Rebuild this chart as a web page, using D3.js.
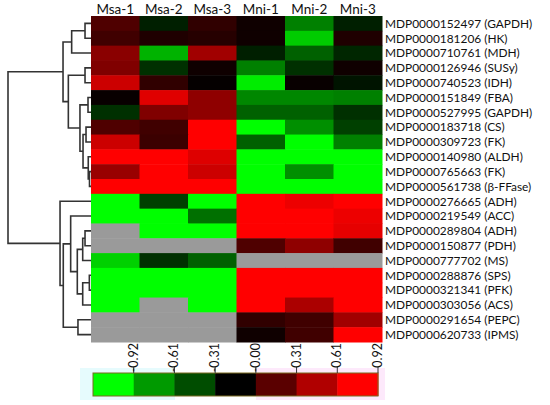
<!DOCTYPE html>
<html><head><meta charset="utf-8">
<script src="https://cdn.jsdelivr.net/npm/d3@7/dist/d3.min.js"></script>
<style>
html,body{margin:0;padding:0;background:#fff;}
text{font-family:Lato,"Open Sans",sans-serif;fill:#111;}
</style></head>
<body><svg id="chart" width="550" height="405"></svg>
<script>
const columns = ["Msa-1","Msa-2","Msa-3","Mni-1","Mni-2","Mni-3"];
const rowLabels = [
 "MDP0000152497 (GAPDH)","MDP0000181206 (HK)","MDP0000710761 (MDH)","MDP0000126946 (SUSy)",
 "MDP0000740523 (IDH)","MDP0000151849 (FBA)","MDP0000527995 (GAPDH)","MDP0000183718 (CS)",
 "MDP0000309723 (FK)","MDP0000140980 (ALDH)","MDP0000765663 (FK)","MDP0000561738 (β-FFase)",
 "MDP0000276665 (ADH)","MDP0000219549 (ACC)","MDP0000289804 (ADH)","MDP0000150877 (PDH)",
 "MDP0000777702 (MS)","MDP0000288876 (SPS)","MDP0000321341 (PFK)","MDP0000303056 (ACS)",
 "MDP0000291654 (PEPC)","MDP0000620733 (IPMS)"];
// relative expression values (null = missing)
const values = [
 [0.31,-0.12,0.19,0.06,-0.5,-0.12],
 [0.25,0.12,0.15,0.06,-0.8,0.12],
 [0.54,-0.7,0.63,-0.12,-0.38,-0.15],
 [0.5,-0.19,0.06,-0.5,-0.19,0.06],
 [0.8,0.19,0.02,-0.93,0.03,-0.08],
 [0.03,0.88,0.56,-0.53,-0.53,-0.5],
 [-0.19,0.5,0.56,-0.38,-0.38,-0.19],
 [0.31,0.25,1,-1,-0.56,-0.25],
 [0.8,0.23,1,-0.38,-1,-0.5],
 [1,1,0.87,-1,-1,-1],
 [0.6,1,0.8,-1,-0.56,-1],
 [1,1,1,-1,-1,-1],
 [-1,-0.25,-1,1,0.93,1],
 [-1,-1,-0.44,1,1,0.93],
 [null,-1,-1,1,1,0.9],
 [null,null,null,0.31,0.56,0.25],
 [-0.82,-0.19,-0.38,null,null,null],
 [-1,-1,-1,1,1,1],
 [-1,-1,-1,1,1,1],
 [-1,null,-1,1,0.67,1],
 [null,null,null,0.19,0.25,0.63],
 [null,null,null,0.06,0.25,1]
];
// dendrogram merges: [childA, childB, height]; ids >= 22 refer to earlier merges
const merges = [
 [0,1,0.072],[22,2,0.233],[3,4,0.072],[5,6,0.036],[7,8,0.06],[10,11,0.018],
 [9,27,0.033],[26,28,0.096],[25,29,0.133],[24,30,0.273],[23,31,0.337],
 [14,15,0.072],[33,16,0.1],[17,18,0.02],[35,19,0.1],[34,36,0.165],[13,37,0.245],
 [20,21,0.157],[38,39,0.334],[12,40,0.373],[32,41,1.0]
];
const legendTicks = ["-0.92","-0.61","-0.31","-0.00","0.31","0.61","0.92"];
const legendColors = ["#00ff00","#009a00","#004d00","#000000","#5a0000","#b00000","#ff0000"];

const svg = d3.select("#chart");
const x = d3.scaleBand().domain(columns).range([91,382]);
const y = d3.scaleBand().domain(d3.range(rowLabels.length)).range([16,342]);
const color = d3.scaleLinear().domain([-1,0,1]).range(["#00ff00","#000000","#ff0000"]).clamp(true);

const cells = [];
values.forEach((r,i)=>r.forEach((v,j)=>cells.push({i,j,v})));
svg.append("g").selectAll("rect").data(cells).join("rect")
 .attr("x",d=>x(columns[d.j])).attr("y",d=>y(d.i))
 .attr("width",x.bandwidth()+0.5).attr("height",y.bandwidth()+0.5)
 .attr("fill",d=>d.v===null?"#9a9a9a":color(d.v));

svg.append("g").selectAll("text").data(columns).join("text")
 .attr("x",d=>x(d)+x.bandwidth()/2).attr("y",14)
 .attr("text-anchor","middle").style("font-size","13.5px").text(d=>d);

svg.append("g").selectAll("text").data(rowLabels).join("text")
 .attr("x",385).attr("y",(d,i)=>y(i)+y.bandwidth()/2)
 .attr("dy","0.36em").style("font-size","11.9px").text(d=>d);

// dendrogram
const h = d3.scaleLinear().domain([0,1]).range([91,8]);
const nodes = rowLabels.map((d,i)=>({x:h(0), y:y(i)+y.bandwidth()/2}));
const dg = svg.append("g").attr("fill","none").attr("stroke","#333").attr("stroke-width",1.6);
merges.forEach(([a,b,ht])=>{
  const A=nodes[a],B=nodes[b],nx=h(ht);
  dg.append("path").attr("d",`M${A.x},${A.y}H${nx}V${B.y}H${B.x}`);
  nodes.push({x:nx,y:(A.y+B.y)/2});
});

// colour legend
const lx = d3.scaleLinear().domain([0,7]).range([93,378]);
svg.append("rect").attr("x",80).attr("y",368).attr("width",95).attr("height",32).attr("fill","#e6fbfd");
svg.append("rect").attr("x",256).attr("y",368).attr("width",129).attr("height",32).attr("fill","#fde9fb");
svg.append("g").selectAll("rect").data(legendColors).join("rect")
 .attr("x",(d,i)=>lx(i)).attr("y",373).attr("width",lx(1)-lx(0)+0.5).attr("height",23).attr("fill",d=>d);
svg.append("rect").attr("x",93).attr("y",373).attr("width",285).attr("height",23)
 .attr("fill","none").attr("stroke","#7a6a20").attr("stroke-width",1);
const tg = svg.append("g").selectAll("g").data(legendTicks).join("g")
 .attr("transform",(d,i)=>`translate(${lx(i+1)},0)`);
tg.append("line").attr("y1",367).attr("y2",373).attr("stroke","#333");
tg.append("text").attr("transform","translate(4,343) rotate(-90)")
 .attr("text-anchor","end").style("font-size","12.5px").text(d=>d);
</script></body></html>
